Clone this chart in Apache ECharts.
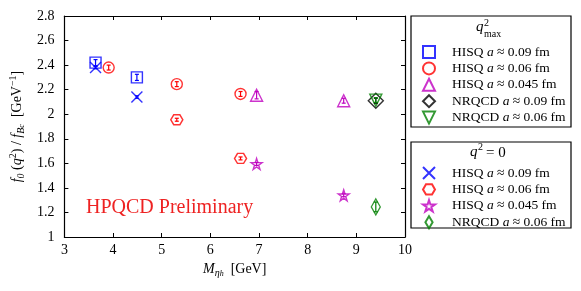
<!DOCTYPE html>
<html><head><meta charset="utf-8">
<script src="https://cdn.jsdelivr.net/npm/echarts@6/dist/echarts.min.js"></script>
<style>html,body{margin:0;padding:0;background:#fff}#c{width:581px;height:291px}</style>
</head><body><div id="c"></div>
<script>
// [x (M_eta_h GeV), y (f0/fBc), error]
const hisq09_qmax  = [[3.64, 2.42, 0.025], [4.49, 2.30, 0.025]];
const hisq06_qmax  = [[3.91, 2.38, 0.02], [5.31, 2.245, 0.02], [6.62, 2.165, 0.02]];
const hisq045_qmax = [[6.95, 2.155, 0.03], [8.74, 2.11, 0.02]];
const nrqcd09_qmax = [[9.40, 2.11, 0.02]];
const nrqcd06_qmax = [[9.40, 2.115, 0.02]];
const hisq09_q0    = [[3.64, 2.38, 0.01], [4.49, 2.14, 0.01]];
const hisq06_q0    = [[5.31, 1.955, 0.012], [6.62, 1.64, 0.012]];
const hisq045_q0   = [[6.95, 1.595, 0.012], [8.74, 1.34, 0.012]];
const nrqcd06_q0   = [[9.40, 1.245, 0.04]];
const xTicks = [3, 4, 5, 6, 7, 8, 9, 10];
const yTicks = [1, 1.2, 1.4, 1.6, 1.8, 2, 2.2, 2.4, 2.6, 2.8];

const labelsA = ['HISQ|0.09', 'HISQ|0.06', 'HISQ|0.045', 'NRQCD|0.09', 'NRQCD|0.06'];
const labelsB = ['HISQ|0.09', 'HISQ|0.06', 'HISQ|0.045', 'NRQCD|0.06'];

const SERIF = 'Liberation Serif';
const BLUE = '#0000ff', RED = '#ff0000', MAG = '#bf00bf', BLK = '#000000', GRN = '#008000';

const P = {
  square: 'path://M0,0 L10,0 L10,10 L0,10 Z',
  circle: 'circle',
  triUp: 'path://M5,0 L10,10 L0,10 Z',
  triDown: 'path://M0,0 L10,0 L5,10 Z',
  diamond: 'path://M5,0 L10,5 L5,10 L0,5 Z',
  cross: 'path://M0,0 L10,10 M10,0 L0,10',
  hex: 'path://M0,5 L2.5,0.67 L7.5,0.67 L10,5 L7.5,9.33 L2.5,9.33 Z',
  star: 'path://M5,0 L6.18,3.62 L10,3.62 L6.91,5.86 L8.09,9.51 L5,7.27 L1.91,9.51 L3.09,5.86 L0,3.62 L3.82,3.62 Z',
  thinDiamond: 'path://M3,0 L6,5 L3,10 L0,5 Z'
};

const defs = [
  {id: 'A0', data: hisq09_qmax,  color: BLUE, sym: P.square, size: 11},
  {id: 'A1', data: hisq06_qmax,  color: RED,  sym: P.circle, size: 11},
  {id: 'A2', data: hisq045_qmax, color: MAG,  sym: P.triUp, size: 12},
  {id: 'A3', data: nrqcd09_qmax, color: BLK,  sym: P.diamond, size: 15},
  {id: 'A4', data: nrqcd06_qmax, color: GRN,  sym: P.triDown, size: 12},
  {id: 'B0', data: hisq09_q0,    color: BLUE, sym: P.cross, size: 11},
  {id: 'B1', data: hisq06_q0,    color: RED,  sym: P.hex, size: [12, 10]},
  {id: 'B2', data: hisq045_q0,   color: MAG,  sym: P.star, size: 11},
  {id: 'B3', data: nrqcd06_q0,   color: GRN,  sym: P.thinDiamond, size: [9, 16]}
];

function labelText(key) {
  const [kind, a] = key.split('|');
  return '{t|' + kind + ' }{i|a}{t| \u2248 ' + a + ' fm}';
}
const nameMap = {};
labelsA.forEach((l, i) => nameMap['A' + i] = labelText(l));
labelsB.forEach((l, i) => nameMap['B' + i] = labelText(l));

const series = [];
defs.forEach(d => {
  series.push({
    type: 'scatter', name: d.id, data: d.data.map(p => [p[0], p[1]]),
    symbol: d.sym, symbolSize: d.size,
    itemStyle: {color: 'rgba(0,0,0,0)', borderColor: d.color, borderWidth: 1.4},
    emphasis: {disabled: true}, z: 3
  });
  series.push({
    type: 'custom', name: d.id + '_err', data: d.data, z: 4,
    renderItem: function (params, api) {
      const x = api.value(0), y = api.value(1), e = api.value(2);
      const lo = api.coord([x, y - e]), hi = api.coord([x, y + e]);
      const st = {stroke: d.color, lineWidth: 1.2};
      return {type: 'group', children: [
        {type: 'line', shape: {x1: lo[0], y1: lo[1], x2: hi[0], y2: hi[1]}, style: st},
        {type: 'line', shape: {x1: lo[0] - 2, y1: lo[1], x2: lo[0] + 2, y2: lo[1]}, style: st},
        {type: 'line', shape: {x1: hi[0] - 2, y1: hi[1], x2: hi[0] + 2, y2: hi[1]}, style: st}
      ]};
    },
    encode: {x: 0, y: 1}
  });
});

const legendText = {
  fontFamily: SERIF, fontSize: 13.5, color: '#000', padding: [0, 0, 0, 12], lineHeight: 12,
  rich: {
    t: {fontFamily: SERIF, fontSize: 13.5, color: '#000', lineHeight: 12},
    i: {fontFamily: SERIF, fontSize: 13.5, fontStyle: 'italic', color: '#000', lineHeight: 12}
  }
};
function legend(ids, top) {
  return {
    show: true, orient: 'vertical', left: 422, top: top, padding: 0,
    itemWidth: 12, itemHeight: 12, itemGap: 2.4,
    data: ids, selectedMode: false,
    formatter: n => nameMap[n], textStyle: legendText
  };
}

const axisCommon = {
  axisLine: {show: true, onZero: false, lineStyle: {color: '#000', width: 1.2}},
  axisTick: {show: true, inside: true, length: 4, lineStyle: {color: '#000', width: 1}},
  splitLine: {show: false}
};

const t = (txt, x, y, size, style) => ({
  type: 'text', left: x, top: y,
  style: {text: txt, fontFamily: SERIF, fontSize: size, fontStyle: style || 'normal', fill: '#000'}
});

const option = {
  animation: false,
  backgroundColor: '#fff',
  grid: {left: 61, right: 176, top: 16, bottom: 54},
  xAxis: [
    Object.assign({type: 'value', min: xTicks[0], max: xTicks[xTicks.length - 1], interval: 1, position: 'bottom',
      axisLabel: {fontFamily: SERIF, fontSize: 14, color: '#000', margin: 6},
      name: '{i|M}{s|\u03b7}{ss|h}{n|  [GeV]}', nameLocation: 'middle', nameGap: 22,
      nameTextStyle: {rich: {
        i: {fontFamily: SERIF, fontSize: 14, fontStyle: 'italic', lineHeight: 18, color: '#000'},
        s: {fontFamily: SERIF, fontSize: 10, fontStyle: 'italic', verticalAlign: 'bottom', lineHeight: 11, color: '#000'},
        ss: {fontFamily: SERIF, fontSize: 8, fontStyle: 'italic', verticalAlign: 'bottom', lineHeight: 6, color: '#000'},
        n: {fontFamily: SERIF, fontSize: 14, lineHeight: 18, color: '#000'}
      }}
    }, axisCommon),
    Object.assign({type: 'value', min: xTicks[0], max: xTicks[xTicks.length - 1], interval: 1, position: 'top',
      axisLabel: {show: false}}, axisCommon)
  ],
  yAxis: [
    Object.assign({type: 'value', min: yTicks[0], max: yTicks[yTicks.length - 1], interval: 0.2, position: 'left',
      axisLabel: {fontFamily: SERIF, fontSize: 14, color: '#000', margin: 10},
      name: '{i|f}{s|0}{n| (}{i|q}{p|2}{n|) / }{i|f}{s|B}{ss|c}{n|  [GeV}{p|\u22121}{n|]}',
      nameLocation: 'middle', nameGap: 37, nameRotate: 90,
      nameTextStyle: {rich: {
        i: {fontFamily: SERIF, fontSize: 14, fontStyle: 'italic', lineHeight: 18, color: '#000'},
        s: {fontFamily: SERIF, fontSize: 10, fontStyle: 'italic', verticalAlign: 'bottom', lineHeight: 11, color: '#000'},
        ss: {fontFamily: SERIF, fontSize: 8, fontStyle: 'italic', verticalAlign: 'bottom', lineHeight: 6, color: '#000'},
        p: {fontFamily: SERIF, fontSize: 10, verticalAlign: 'top', lineHeight: 11, color: '#000'},
        n: {fontFamily: SERIF, fontSize: 14, lineHeight: 18, color: '#000'}
      }}
    }, axisCommon),
    Object.assign({type: 'value', min: yTicks[0], max: yTicks[yTicks.length - 1], interval: 0.2, position: 'right',
      axisLabel: {show: false}}, axisCommon)
  ],
  legend: [legend(['A0', 'A1', 'A2', 'A3', 'A4'], 45), legend(['B0', 'B1', 'B2', 'B3'], 166)],
  graphic: [
    {type: 'rect', shape: {x: 411, y: 16, width: 160, height: 111}, style: {fill: 'none', stroke: '#000', lineWidth: 1.2}},
    {type: 'rect', shape: {x: 411, y: 142, width: 160, height: 86}, style: {fill: 'none', stroke: '#000', lineWidth: 1.2}},
    t('q', 476, 20, 15, 'italic'),
    t('2', 484, 18, 10, 'normal'),
    t('max', 484, 29, 10, 'normal'),
    t('q', 470, 145, 15, 'italic'),
    t('2', 478, 142, 10, 'normal'),
    t('= 0', 486, 146, 15, 'normal'),
    {type: 'text', left: 86, top: 198, style: {text: 'HPQCD Preliminary', fontFamily: SERIF, fontSize: 20, fill: '#ee2222'}}
  ],
  series: series
};

const chart = echarts.init(document.getElementById('c'), null, {renderer: 'canvas'});
chart.setOption(option);
</script>
</body></html>
